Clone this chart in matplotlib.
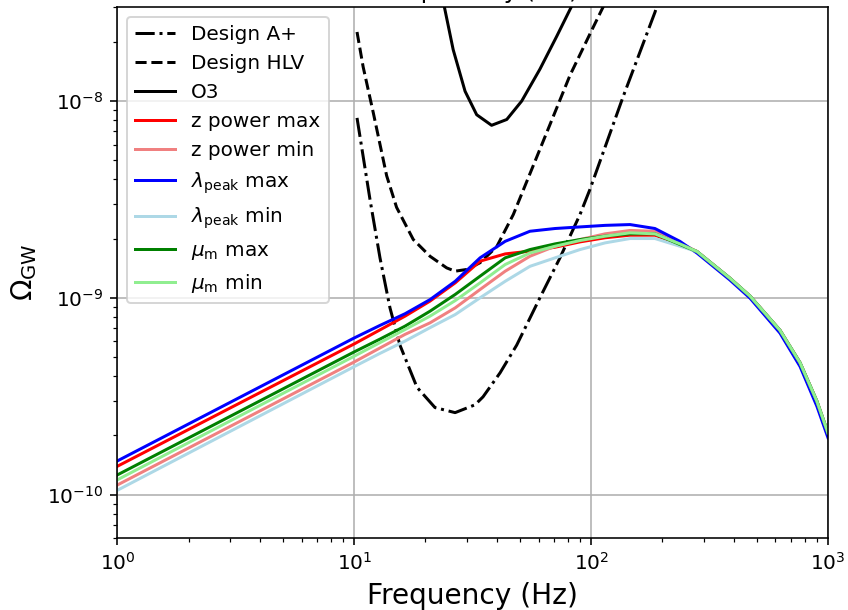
import matplotlib
matplotlib.use("Agg")
import matplotlib.pyplot as plt

# Detector sensitivity curves (power-law integrated)
aplus_freq = [10.28, 11.67, 12.85, 14.16, 15.60, 18.41, 21.93, 26.67, 32.36, 34.99,
              41.30, 48.53, 60.81, 73.9, 89.8, 98.86, 136.5, 186.2, 199.5]
aplus_omega = [8.20e-9, 3.14e-9, 1.596e-9, 8.89e-10, 5.75e-10, 3.51e-10, 2.77e-10,
               2.61e-10, 2.86e-10, 3.14e-10, 4.16e-10, 5.75e-10, 1.0e-9, 1.596e-9,
               2.65e-9, 3.55e-9, 1.05e-8, 2.83e-8, 3.7e-8]

hlv_freq = [10.28, 10.91, 12.05, 13.71, 15.10, 17.76, 20.89, 24.57, 26.65, 29.87,
            33.98, 39.98, 46.97, 65.01, 81.47, 100.7, 112.7, 125.9]
hlv_omega = [2.24e-8, 1.49e-8, 8.67e-9, 4.17e-9, 2.88e-9, 1.977e-9, 1.626e-9,
             1.419e-9, 1.365e-9, 1.393e-9, 1.507e-9, 1.82e-9, 2.65e-9, 6.92e-9,
             1.35e-8, 2.29e-8, 3.02e-8, 3.98e-8]

o3_freq = [22.9, 23.99, 26.18, 29.38, 32.89, 38.02, 44.06, 50.93, 60.81, 71.61,
           82.79, 91.2]
o3_omega = [3.98e-8, 3.03e-8, 1.82e-8, 1.12e-8, 8.51e-9, 7.52e-9, 8.05e-9, 9.98e-9,
            1.45e-8, 2.13e-8, 3.03e-8, 3.9e-8]

# Model spectra for the parameter extremes
freq = [1, 10, 12.85, 16.4, 20.9, 26.7, 34.0, 43.4, 55.2, 70.5, 89.8, 114.6, 146,
        186, 237, 280, 385, 469, 627, 762, 898, 1000]

z_power_max = [1.393e-10, 5.83e-10, 6.87e-10, 8.07e-10, 9.62e-10, 1.191e-9, 1.535e-9,
               1.671e-9, 1.726e-9, 1.807e-9, 1.923e-9, 2.018e-9, 2.080e-9, 2.080e-9,
               1.866e-9, 1.718e-9, 1.259e-9, 1.019e-9, 6.84e-10, 4.68e-10, 2.98e-10,
               2.056e-10]
z_power_min = [1.119e-10, 4.72e-10, 5.56e-10, 6.52e-10, 7.46e-10, 8.89e-10, 1.102e-9,
               1.365e-9, 1.626e-9, 1.828e-9, 1.977e-9, 2.113e-9, 2.198e-9, 2.178e-9,
               1.901e-9, 1.718e-9, 1.259e-9, 1.019e-9, 6.84e-10, 4.68e-10, 2.98e-10,
               2.056e-10]
lam_peak_max = [1.483e-10, 6.25e-10, 7.24e-10, 8.30e-10, 9.79e-10, 1.213e-9, 1.596e-9,
                1.936e-9, 2.178e-9, 2.249e-9, 2.291e-9, 2.333e-9, 2.355e-9, 2.249e-9,
                1.936e-9, 1.687e-9, 1.233e-9, 9.95e-10, 6.62e-10, 4.48e-10, 2.81e-10,
                1.945e-10]
lam_peak_min = [1.052e-10, 4.47e-10, 5.22e-10, 6.03e-10, 7.05e-10, 8.22e-10, 1.0e-9,
                1.213e-9, 1.445e-9, 1.596e-9, 1.758e-9, 1.901e-9, 2.000e-9, 2.000e-9,
                1.828e-9, 1.718e-9, 1.259e-9, 1.019e-9, 6.84e-10, 4.68e-10, 2.98e-10,
                2.056e-10]
mu_m_max = [1.259e-10, 5.31e-10, 6.17e-10, 7.18e-10, 8.55e-10, 1.040e-9, 1.288e-9,
            1.596e-9, 1.758e-9, 1.879e-9, 1.977e-9, 2.056e-9, 2.113e-9, 2.113e-9,
            1.866e-9, 1.718e-9, 1.259e-9, 1.019e-9, 6.84e-10, 4.68e-10, 2.98e-10,
            2.056e-10]
mu_m_min = [1.189e-10, 5.05e-10, 5.92e-10, 6.90e-10, 8.07e-10, 9.68e-10, 1.191e-9,
            1.476e-9, 1.690e-9, 1.828e-9, 1.954e-9, 2.056e-9, 2.138e-9, 2.113e-9,
            1.879e-9, 1.718e-9, 1.259e-9, 1.019e-9, 6.84e-10, 4.68e-10, 2.98e-10,
            2.056e-10]

fig = plt.figure(figsize=(848 / 144, 610 / 144), dpi=144)
ax = fig.add_axes([0.1383, 0.1175, 0.8381, 0.8710])

ax.plot(aplus_freq, aplus_omega, color="black", linestyle="-.", label="Design A+")
ax.plot(hlv_freq, hlv_omega, color="black", linestyle="--", label="Design HLV")
ax.plot(o3_freq, o3_omega, color="black", linestyle="-", label="O3")

ax.plot(freq, z_power_max, color="red", label="z power max")
ax.plot(freq, z_power_min, color="lightcoral", label="z power min")
ax.plot(freq, lam_peak_max, color="blue", label=r"$\lambda_{\rm peak}$ max")
ax.plot(freq, lam_peak_min, color="lightblue", label=r"$\lambda_{\rm peak}$ min")
ax.plot(freq, mu_m_max, color="green", label=r"$\mu_{\rm m}$ max")
ax.plot(freq, mu_m_min, color="lightgreen", label=r"$\mu_{\rm m}$ min")

ax.set_xscale("log")
ax.set_yscale("log")
ax.set_xlim(1, 1e3)
ax.set_ylim(6e-11, 3e-8)
ax.grid(True, which="major")

ax.set_xlabel("Frequency (Hz)", fontsize=14)
ax.set_ylabel(r"$\Omega_{\rm GW}$", fontsize=14)
ax.set_title("Comp. study (O3)", pad=4.5)
ax.legend(loc="upper left")

fig.savefig("out.png", dpi=144)
